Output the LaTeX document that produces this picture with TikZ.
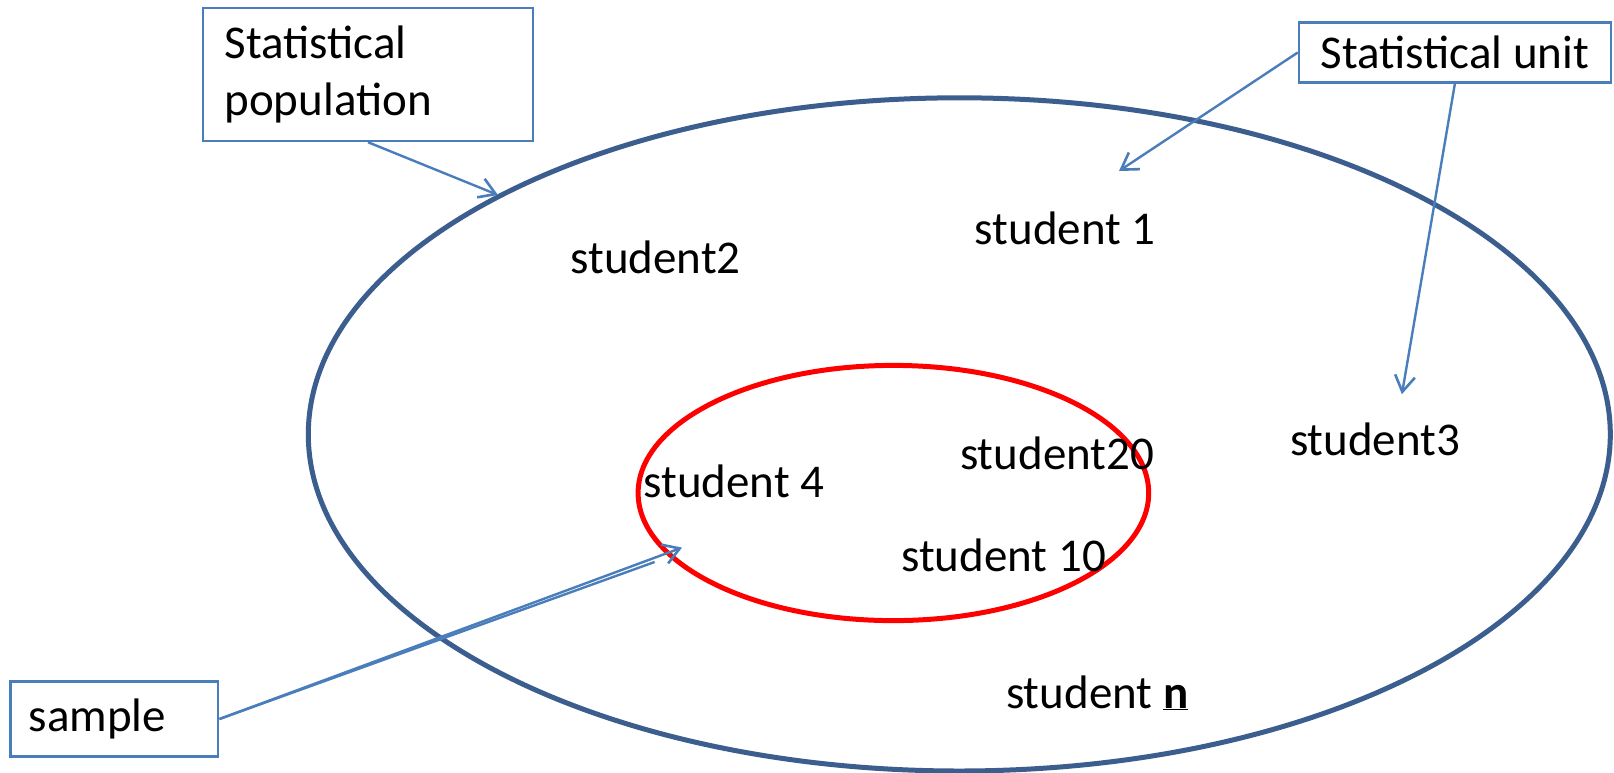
\documentclass[tikz,border=0pt]{standalone}
\usepackage{fontspec}
\setmainfont{Carlito}
\usetikzlibrary{arrows.meta}
\definecolor{boxblue}{HTML}{4A7EBB}
\definecolor{ringblue}{HTML}{3B5E8F}
\definecolor{ringred}{HTML}{FF0000}
\begin{document}
\begin{tikzpicture}[x=1pt,y=-1pt,
  lbl/.style={font=\fontsize{47}{57}\selectfont, inner sep=0pt, text=black},
  labelbox/.style={draw=boxblue, line width=2.4pt, font=\fontsize{47}{57}\selectfont, text=black},
  pointer/.style={draw=boxblue, line width=2.4pt, -{Straight Barb[length=16pt,width=20pt,line width=2.6pt]}},
  plainline/.style={draw=boxblue, line width=2.4pt}]
\useasboundingbox[fill=white] (0,0) rectangle (1614,772);
% ellipses
\draw[ringblue, line width=5pt] (959.3,434.4) ellipse [x radius=651pt, y radius=336.6pt];
\draw[ringred, line width=5pt] (893.4,493.0) ellipse [x radius=255.3pt, y radius=127.6pt];
% student labels
\node[lbl] (s2)  at (655.7,257.3) {student2};
\node[lbl] (s1)  at (1065.3,228.5) {student 1};
\node[lbl] (s3)  at (1375.1,439.5) {student3};
\node[lbl] (s20) at (1057.1,452.9) {student20};
\node[lbl] (s4)  at (733.9,481.7) {student 4};
\node[lbl] (s10) at (1003.6,555.8) {student 10};
\node[lbl] (sn)  at (1097.2,692.7) {student \underline{\textbf{n}}};
% label boxes
\node[labelbox, minimum width=330.4pt, minimum height=132.8pt, text width=287pt, align=left, inner xsep=21.6pt] (pop) at (368.0,74.6) {Statistical\\population};
\node[labelbox, minimum width=311.9pt, minimum height=59.7pt, inner sep=0pt] (unit) at (1454.9,52.5) {Statistical unit};
\node[labelbox, minimum width=207.9pt, minimum height=75.1pt, text width=170.9pt, align=left, inner xsep=18.5pt] (smp) at (114.3,719.0) {sample};
% targets
\coordinate (tpop) at (498,195);
\coordinate (tu1) at (1119,171);
\coordinate (tu3) at (1401.9,394.2);
\coordinate (tsmp) at (682,547.6);
\coordinate (tsmp2) at (654.6,562.0);
% connectors
\draw[pointer] (pop.south) -- (tpop);
\draw[pointer] (unit.west) -- (tu1);
\draw[pointer] (unit.south) -- (tu3);
\draw[plainline] (smp.east) -- (tsmp2);
\draw[pointer] (smp.east) -- (tsmp);
\end{tikzpicture}
\end{document}
